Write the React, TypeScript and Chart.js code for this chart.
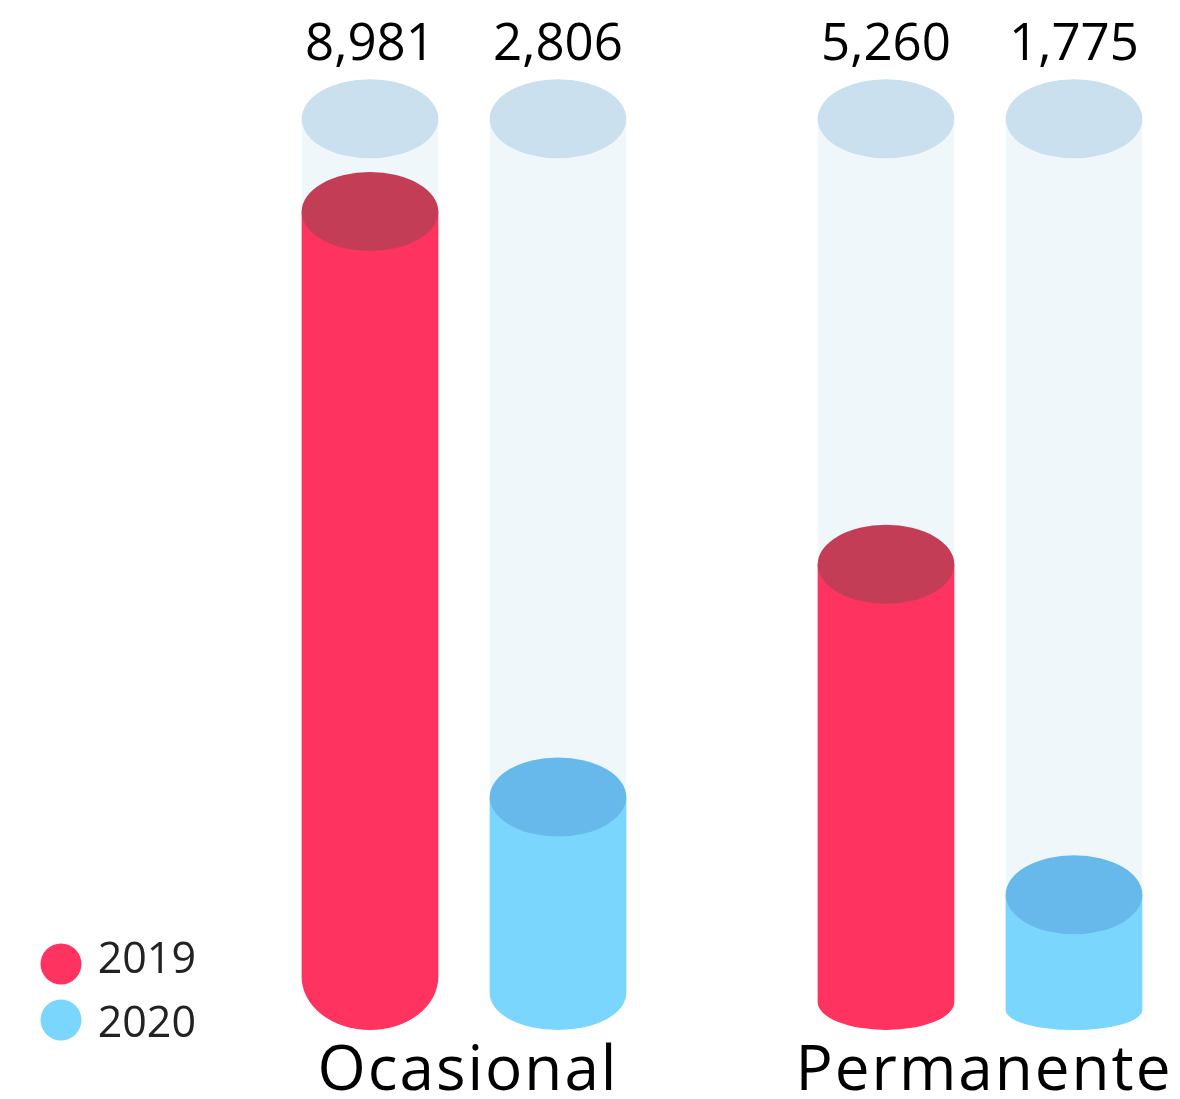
import React, { useEffect, useRef } from 'react';
import { Chart, registerables } from 'chart.js';

Chart.register(...registerables);

// ---- data ----
const CATEGORIES = ['Ocasional', 'Permanente'];
const SERIES_LABELS = ['2019', '2020'];
const VALUES_2019 = [8981, 5260];
const VALUES_2020 = [2806, 1775];
const TRACK_MAX = 9960; // height of the pale background "track" cylinders
const Y_MAX = 10000;

// ---- style ----
const FONT = '"Open Sans", sans-serif';
const SERIES_BODY = ['#FF3360', '#7AD6FD'];
const SERIES_TOP = ['#C43D56', '#68B9EB'];
const TRACK_BODY = '#EFF7FA';
const TRACK_TOP = '#CAE0EE';
const TOP_RY = 39.5;
const BOTTOM_GAP = 33; // lowest point of a cylinder above the zero line
const BOTTOM_RY = [
  [53, 28],
  [37, 20],
];

const cylinderPlugin = {
  id: 'cylinders',
  afterDatasetsDraw(chart: any) {
    const ctx: CanvasRenderingContext2D = chart.ctx;
    const yScale = chart.scales.y;
    const xScale = chart.scales.x;
    const area = chart.chartArea;
    const trackTop = yScale.getPixelForValue(TRACK_MAX);
    const metas = chart.data.datasets.map((_: any, i: number) => chart.getDatasetMeta(i));
    ctx.save();

    // background tracks
    metas.forEach((meta: any, di: number) => {
      meta.data.forEach((bar: any, i: number) => {
        const { x, width, base } = bar.getProps(['x', 'width', 'base'], true);
        const left = x - width / 2;
        const bottomCenter = base - BOTTOM_GAP - BOTTOM_RY[di][i];
        ctx.fillStyle = TRACK_BODY;
        ctx.fillRect(left, trackTop, width, bottomCenter - trackTop);
        ctx.fillStyle = TRACK_TOP;
        ctx.beginPath();
        ctx.ellipse(x, trackTop, width / 2, TOP_RY, 0, 0, Math.PI * 2);
        ctx.fill();
      });
    });

    // value cylinders
    metas.forEach((meta: any, di: number) => {
      meta.data.forEach((bar: any, i: number) => {
        const { x, y, width, base } = bar.getProps(['x', 'y', 'width', 'base'], true);
        const left = x - width / 2;
        const right = x + width / 2;
        const depth = BOTTOM_RY[di][i];
        const bottomCenter = base - BOTTOM_GAP - depth;
        ctx.fillStyle = SERIES_BODY[di];
        ctx.beginPath();
        ctx.moveTo(left, y);
        ctx.lineTo(left, bottomCenter);
        ctx.ellipse(x, bottomCenter, width / 2, depth, 0, Math.PI, 0, true);
        ctx.lineTo(right, y);
        ctx.closePath();
        ctx.fill();
        ctx.fillStyle = SERIES_TOP[di];
        ctx.beginPath();
        ctx.ellipse(x, y, width / 2, TOP_RY, 0, 0, Math.PI * 2);
        ctx.fill();

        // value label
        const v = chart.data.datasets[di].data[i] as number;
        ctx.fillStyle = '#000000';
        ctx.font = `400 51px ${FONT}`;
        ctx.textAlign = 'center';
        ctx.textBaseline = 'alphabetic';
        ctx.fillText(v.toLocaleString('en-US'), x, trackTop - 59);
      });
    });

    // category labels
    ctx.fillStyle = '#000000';
    ctx.font = `400 62px ${FONT}`;
    ctx.textAlign = 'center';
    ctx.textBaseline = 'alphabetic';
    (ctx as any).letterSpacing = '2px';
    chart.data.labels.forEach((lab: string, i: number) => {
      ctx.fillText(lab, xScale.getPixelForValue(i) + 4, area.bottom + 27);
    });
    (ctx as any).letterSpacing = '0px';

    // legend
    const legendY = [964, 1020];
    chart.data.datasets.forEach((ds: any, di: number) => {
      ctx.fillStyle = SERIES_BODY[di];
      ctx.beginPath();
      ctx.arc(61, legendY[di], 20.5, 0, Math.PI * 2);
      ctx.fill();
      ctx.fillStyle = '#222222';
      ctx.font = `400 43px ${FONT}`;
      ctx.textAlign = 'right';
      ctx.textBaseline = 'alphabetic';
      ctx.fillText(ds.label, 196, legendY[di] + 9 + di * 8);
    });

    ctx.restore();
  },
};

export default function App() {
  const canvasRef = useRef<HTMLCanvasElement | null>(null);

  useEffect(() => {
    if (!canvasRef.current) return;
    const chart = new Chart(canvasRef.current, {
      type: 'bar',
      data: {
        labels: CATEGORIES,
        datasets: [
          { label: SERIES_LABELS[0], data: VALUES_2019, backgroundColor: 'rgba(0,0,0,0)' },
          { label: SERIES_LABELS[1], data: VALUES_2020, backgroundColor: 'rgba(0,0,0,0)' },
        ],
      },
      options: {
        animation: false,
        responsive: false,
        maintainAspectRatio: false,
        events: [],
        layout: { padding: { left: 464, right: 200, top: 115, bottom: 36 } },
        datasets: { bar: { categoryPercentage: 0.7287, barPercentage: 0.727 } },
        scales: {
          x: { type: 'category', offset: false, display: false },
          y: { min: 0, max: Y_MAX, display: false },
        },
        plugins: { legend: { display: false }, tooltip: { enabled: false } },
      },
      plugins: [cylinderPlugin],
    });
    let alive = true;
    (document as any).fonts?.ready?.then(() => {
      if (alive) chart.update();
    });
    return () => {
      alive = false;
      chart.destroy();
    };
  }, []);

  return (
    <div style={{ position: 'absolute', left: 0, top: 0, width: 1180, height: 1099, background: '#ffffff' }}>
      <canvas ref={canvasRef} width={1180} height={1099} style={{ display: 'block', width: 1180, height: 1099 }} />
    </div>
  );
}
